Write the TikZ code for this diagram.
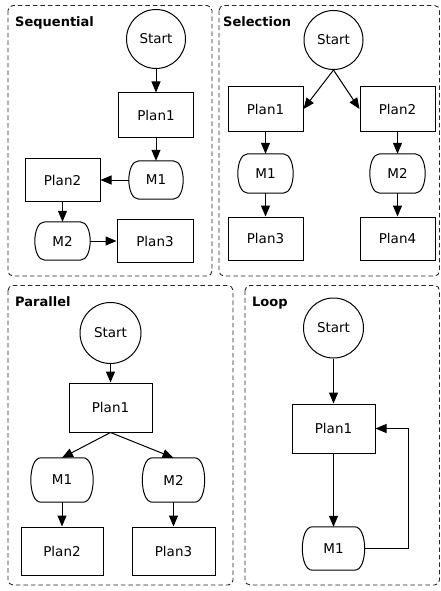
\documentclass[tikz,border=0pt]{standalone}
\usepackage{fontspec}
\setmainfont{DejaVu Sans}
\usetikzlibrary{arrows.meta}

\newcommand\boxtextfont{\fontsize{13.5}{16}\selectfont}

% flat-topped box with bulging left and right sides
\newcommand\drawmshape[1]{%
  \draw[line width=1pt]
    ([xshift=10pt]#1.north west) -- ([xshift=-10pt]#1.north east)
    .. controls ([xshift=3.3pt]#1.north east) and ([xshift=3.3pt]#1.south east) ..
    ([xshift=-10pt]#1.south east) -- ([xshift=10pt]#1.south west)
    .. controls ([xshift=-3.3pt]#1.south west) and ([xshift=-3.3pt]#1.north west) ..
    cycle;}

\tikzset{
  panel/.style={draw=black!85, line width=0.9pt, dash pattern=on 4.5pt off 3pt, rounded corners=5pt},
  paneltitle/.style={anchor=base west, inner sep=0pt, font=\fontsize{13}{15}\selectfont\bfseries},
  startnode/.style={circle, draw, line width=1pt, minimum size=#1, inner sep=0pt, font=\boxtextfont},
  plan/.style 2 args={rectangle, draw, line width=1pt, minimum width=#1, minimum height=#2, inner sep=0pt, font=\boxtextfont},
  mnode/.style 2 args={rectangle, minimum width=#1, minimum height=#2, inner sep=0pt, font=\boxtextfont},
  arr/.style={-{Triangle[length=11pt,width=9pt]}, line width=1pt},
}

\begin{document}
\begin{tikzpicture}[x=1pt,y=-1pt]
\useasboundingbox (0,0) rectangle (441,591);

% ---------- panel frames ----------
\draw[panel] (8,5.5) rectangle (212,276);
\draw[panel] (219,5.5) rectangle (439.5,276);
\draw[panel] (8,285.5) rectangle (233,585);
\draw[panel] (245,285.5) rectangle (439.5,585);

\node[paneltitle] (tSeq) at (15,26.5) {Sequential};
\node[paneltitle] (tSel) at (223,26.5) {Selection};
\node[paneltitle] (tPar) at (15,306) {Parallel};
\node[paneltitle] (tLoop) at (252,306) {Loop};

% ---------- Sequential ----------
\node[startnode=59pt] (sqStart) at (156,39) {Start};
\node[plan={75pt}{44pt}] (sqPlan1) at (156,115) {Plan1};
\node[mnode={54pt}{38pt}] (sqM1) at (156,180) {M1};
\node[plan={75pt}{43pt}] (sqPlan2) at (62.5,180) {Plan2};
\node[mnode={55pt}{38pt}] (sqM2) at (62.5,241) {M2};
\node[plan={76pt}{43pt}] (sqPlan3) at (155,241) {Plan3};
\drawmshape{sqM1}
\drawmshape{sqM2}
\draw[arr] (sqStart.south) -- (sqPlan1.north);
\draw[arr] (sqPlan1.south) -- (sqM1.north);
\draw[arr] (sqM1.west) -- (sqPlan2.east);
\draw[arr] (sqPlan2.south) -- (sqM2.north);
\draw[arr] (sqM2.east) -- (sqPlan3.west);

% ---------- Selection ----------
\node[startnode=59pt] (slStart) at (333.5,40) {Start};
\node[plan={75pt}{44pt}] (slPlan1) at (265.5,109) {Plan1};
\node[plan={75pt}{44pt}] (slPlan2) at (397.5,109) {Plan2};
\node[mnode={55pt}{39pt}] (slM1) at (265.5,173.5) {M1};
\node[mnode={55pt}{39pt}] (slM2) at (397.5,173.5) {M2};
\node[plan={75pt}{43pt}] (slPlan3) at (265.5,238.5) {Plan3};
\node[plan={75pt}{43pt}] (slPlan4) at (397.5,238.5) {Plan4};
\drawmshape{slM1}
\drawmshape{slM2}
\draw[arr] (slStart.south) -- (slPlan1.east);
\draw[arr] (slStart.south) -- (slPlan2.west);
\draw[arr] (slPlan1.south) -- (slM1.north);
\draw[arr] (slPlan2.south) -- (slM2.north);
\draw[arr] (slM1.south) -- (slPlan3.north);
\draw[arr] (slM2.south) -- (slPlan4.north);

% ---------- Parallel ----------
\node[startnode=61pt] (pStart) at (110.5,333) {Start};
\node[plan={83pt}{49pt}] (pPlan1) at (110.5,407.5) {Plan1};
\node[mnode={62pt}{44pt}] (pM1) at (62,480) {M1};
\node[mnode={62pt}{44pt}] (pM2) at (173.5,480) {M2};
\node[plan={82pt}{48pt}] (pPlan2) at (62,551) {Plan2};
\node[plan={83pt}{48pt}] (pPlan3) at (173.5,551) {Plan3};
\drawmshape{pM1}
\drawmshape{pM2}
\draw[arr] (pStart.south) -- (pPlan1.north);
\draw[arr] (pPlan1.south) -- (pM1.north);
\draw[arr] (pPlan1.south) -- (pM2.north);
\draw[arr] (pM1.south) -- (pPlan2.north);
\draw[arr] (pM2.south) -- (pPlan3.north);

% ---------- Loop ----------
\node[startnode=60pt] (lStart) at (333.5,328) {Start};
\node[plan={83pt}{49pt}] (lPlan1) at (333.5,428.5) {Plan1};
\node[mnode={62pt}{43pt}] (lM1) at (333.5,548.5) {M1};
\drawmshape{lM1}
\coordinate (lTurn) at (408,548.5);
\draw[arr] (lStart.south) -- (lPlan1.north);
\draw[arr] (lPlan1.south) -- (lM1.north);
\draw[arr] (lM1.east) -- (lTurn) |- (lPlan1.east);
\end{tikzpicture}
\end{document}
